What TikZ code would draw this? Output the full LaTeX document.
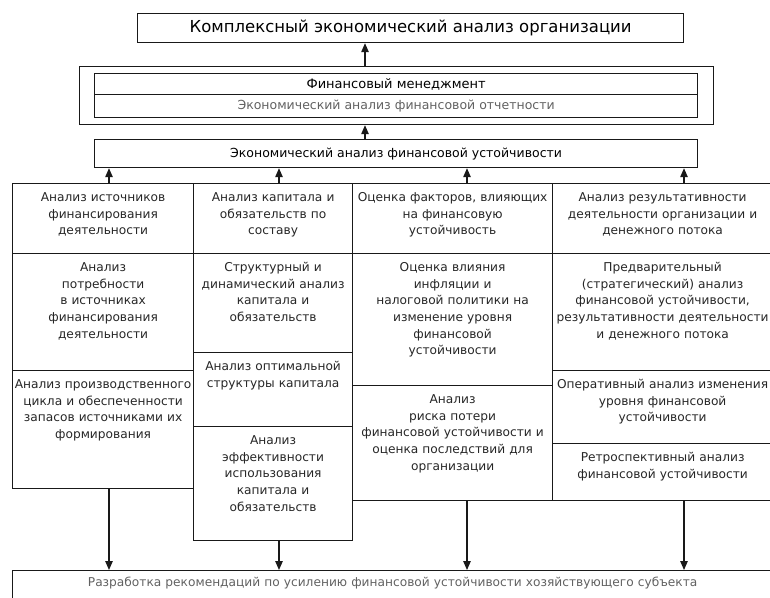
\documentclass[tikz,border=0pt]{standalone}
\usepackage{fontspec}
\setmainfont{DejaVu Sans}
\usetikzlibrary{arrows.meta,positioning,calc}

\definecolor{inkline}{gray}{0.1}
\definecolor{inktext}{gray}{0.15}
\definecolor{inkpale}{gray}{0.38}

\tikzset{
  frame/.style={draw=inkline, line width=1.2pt, inner sep=0pt, anchor=north west},
  head/.style={frame, text=black, font=\fontsize{12.5}{15}\selectfont},
  cell/.style={frame, text=inktext, align=center, inner xsep=2pt, inner ysep=0pt,
    text height=18pt, font=\fontsize{12.2}{16.6}\selectfont},
  arr/.style={draw=inkline, line width=1.2pt, -{Triangle[length=9pt,width=7.5pt]}}
}

\begin{document}
\begin{tikzpicture}[x=1pt,y=-1pt]
\useasboundingbox (0,0) rectangle (770,597);
\clip (0,0) rectangle (770,597);

% Header
\node[head, minimum width=546pt, minimum height=29pt, font=\fontsize{16.5}{18}\selectfont] (kea) at (137,13) {Комплексный экономический анализ организации};
\node[frame, minimum width=634pt, minimum height=58pt] (fin) at (79,66) {};
\node[head, minimum width=603pt, minimum height=21pt, font=\fontsize{13}{15}\selectfont] (fm) at (94,73) {Финансовый менеджмент};
\node[head, minimum width=603pt, minimum height=23pt, text=inkpale] (eafo) at (94,94) {Экономический анализ финансовой отчетности};
\node[head, minimum width=603pt, minimum height=28pt] (eafu) at (94,139) {Экономический анализ финансовой устойчивости};

% Column 1
\node[cell, text width=177pt, text depth=52pt] (a1) at (12,183) {Анализ источников\\финансирования\\деятельности};
\node[cell, text width=177pt, text depth=99pt] (a2) at (12,253) {Анализ\\потребности\\в источниках\\финансирования\\деятельности};
\node[cell, text width=177pt, text depth=100pt] (a3) at (12,370) {Анализ производственного\\цикла и обеспеченности\\запасов источниками их\\формирования};

% Column 2
\node[cell, text width=155pt, text depth=52pt] (b1) at (193,183) {Анализ капитала и\\обязательств по\\составу};
\node[cell, text width=155pt, text depth=81pt] (b2) at (193,253) {Структурный и\\динамический анализ\\капитала и\\обязательств};
\node[cell, text width=155pt, text depth=56pt] (b3) at (193,352) {Анализ оптимальной\\структуры капитала};
\node[cell, text width=155pt, text depth=96pt] (b4) at (193,426) {Анализ\\эффективности\\использования\\капитала и\\обязательств};

% Column 3
\node[cell, text width=196pt, text depth=52pt] (c1) at (352,183) {Оценка факторов, влияющих\\на финансовую\\устойчивость};
\node[cell, text width=196pt, text depth=114pt] (c2) at (352,253) {Оценка влияния\\инфляции и\\налоговой политики на\\изменение уровня\\финансовой\\устойчивости};
\node[cell, text width=196pt, text depth=97pt] (c3) at (352,385) {Анализ\\риска потери\\финансовой устойчивости и\\оценка последствий для\\организации};

% Column 4
\node[cell, text width=216pt, text depth=52pt] (d1) at (552,183) {Анализ результативности\\деятельности организации и\\денежного потока};
\node[cell, text width=216pt, text depth=99pt] (d2) at (552,253) {Предварительный\\(стратегический) анализ\\финансовой устойчивости,\\результативности деятельности\\и денежного потока};
\node[cell, text width=216pt, text depth=55pt] (d3) at (552,370) {Оперативный анализ изменения\\уровня финансовой\\устойчивости};
\node[cell, text width=216pt, text depth=39pt] (d4) at (552,443) {Ретроспективный анализ\\финансовой устойчивости};

% Footer
\node[cell, text width=756pt, text height=16pt, text depth=16pt, text=inkpale] (rec) at (12,570) {Разработка рекомендаций по усилению финансовой устойчивости хозяйствующего субъекта};

% Arrows
\coordinate (k0) at (365,0);
\foreach \n/\x in {1/109,2/279,3/467,4/684} \coordinate (k\n) at (\x,0);
\draw[arr] (fin.north -| k0) -- (kea.south -| k0);
\draw[arr] (eafu.north -| k0) -- (fin.south -| k0);
\foreach \c/\n in {a1/1,b1/2,c1/3,d1/4} \draw[arr] (\c.north -| k\n) -- (eafu.south -| k\n);
\foreach \c/\n in {a3/1,b4/2,c3/3,d4/4} \draw[arr] (\c.south -| k\n) -- (rec.north -| k\n);

\end{tikzpicture}
\end{document}
